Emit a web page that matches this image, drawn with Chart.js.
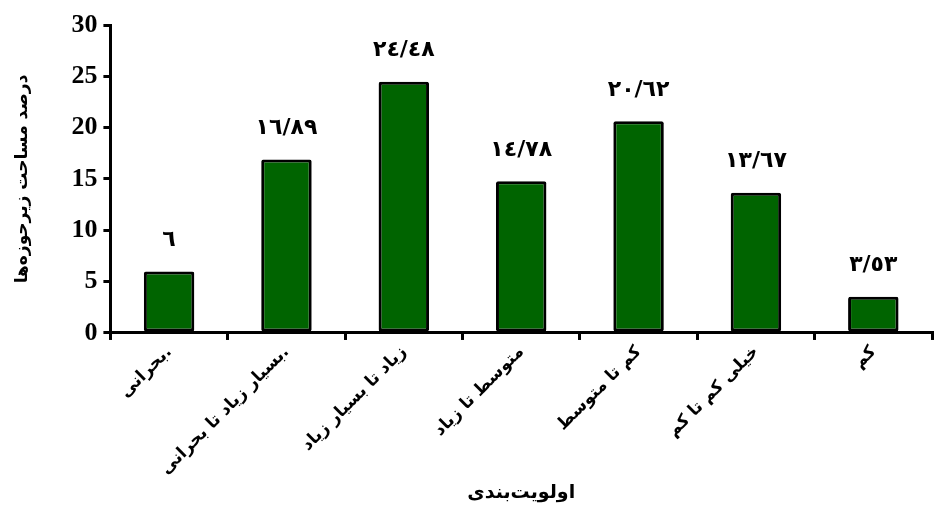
<!DOCTYPE html>
<html>
<head>
<meta charset="utf-8">
<script src="https://cdn.jsdelivr.net/npm/chart.js@4"></script>
<style>
  html, body { margin: 0; padding: 0; background: #fff; }
  #wrap { width: 934px; height: 508px; }
</style>
</head>
<body>
<div id="wrap"><canvas id="chart"></canvas></div>
<script>
// داده‌ها
const categories = ['بحرانی.', 'بسیار زیاد تا بحرانی.', 'زیاد تا بسیار زیاد', 'متوسط تا زیاد', 'کم تا متوسط', 'خیلی کم تا کم', 'کم'];
const areaPercent = [6, 16.89, 24.48, 14.78, 20.62, 13.67, 3.53];
const valueLabels = ['٦', '١٦/٨٩', '٢٤/٤٨', '١٤/٧٨', '٢٠/٦٢', '١٣/٦٧', '٣/٥٣'];
const yTicks = [0, 5, 10, 15, 20, 25, 30];

const arabicFont = "'DejaVu Sans', sans-serif";

// برچسب مقدار بالای هر ستون
const barLabels = {
  id: 'barLabels',
  afterDatasetsDraw(chart) {
    const ctx = chart.ctx;
    const meta = chart.getDatasetMeta(0);
    ctx.save();
    ctx.font = 'bold 22px ' + arabicFont;
    ctx.fillStyle = '#000';
    ctx.textAlign = 'center';
    ctx.textBaseline = 'middle';
    meta.data.forEach((bar, i) => {
      ctx.fillText(valueLabels[i], bar.x, bar.y - 31);
    });
    ctx.restore();
  }
};

new Chart(document.getElementById('chart'), {
  type: 'bar',
  data: {
    labels: categories,
    datasets: [{
      data: areaPercent,
      backgroundColor: '#006400',
      borderColor: '#000',
      borderWidth: 3,
      borderRadius: 2,
      borderSkipped: false,
      barPercentage: 0.43,
      categoryPercentage: 1
    }]
  },
  options: {
    responsive: true,
    maintainAspectRatio: false,
    animation: false,
    layout: { padding: { top: 25, right: 2, left: 8, bottom: 0 } },
    plugins: { legend: { display: false }, tooltip: { enabled: false } },
    scales: {
      x: {
        grid: { offset: true, drawOnChartArea: false, drawTicks: true, tickLength: 7, color: '#000', lineWidth: 3 },
        border: { color: '#000', width: 3 },
        ticks: {
          color: '#000',
          font: { family: arabicFont, size: 17, weight: 'bold' },
          minRotation: 45, maxRotation: 45, padding: 2
        },
        title: {
          display: true, text: 'اولویت‌بندی', color: '#000',
          font: { family: arabicFont, size: 19, weight: 'bold' }, padding: { top: 0 }
        }
      },
      y: {
        min: 0, max: 30,
        afterBuildTicks(axis) { axis.ticks = yTicks.map(v => ({ value: v })); },
        grid: { drawOnChartArea: false, drawTicks: true, tickLength: 7, color: '#000', lineWidth: 3 },
        border: { color: '#000', width: 3 },
        ticks: {
          color: '#000', padding: 6,
          font: { family: "'Liberation Serif', serif", size: 26, weight: 'bold' }
        },
        title: {
          display: true, text: 'درصد مساحت زیرحوزه‌ها', color: '#000',
          font: { family: arabicFont, size: 17, weight: 'bold' }, padding: { bottom: 33 }
        }
      }
    }
  },
  plugins: [barLabels]
});
</script>
</body>
</html>
